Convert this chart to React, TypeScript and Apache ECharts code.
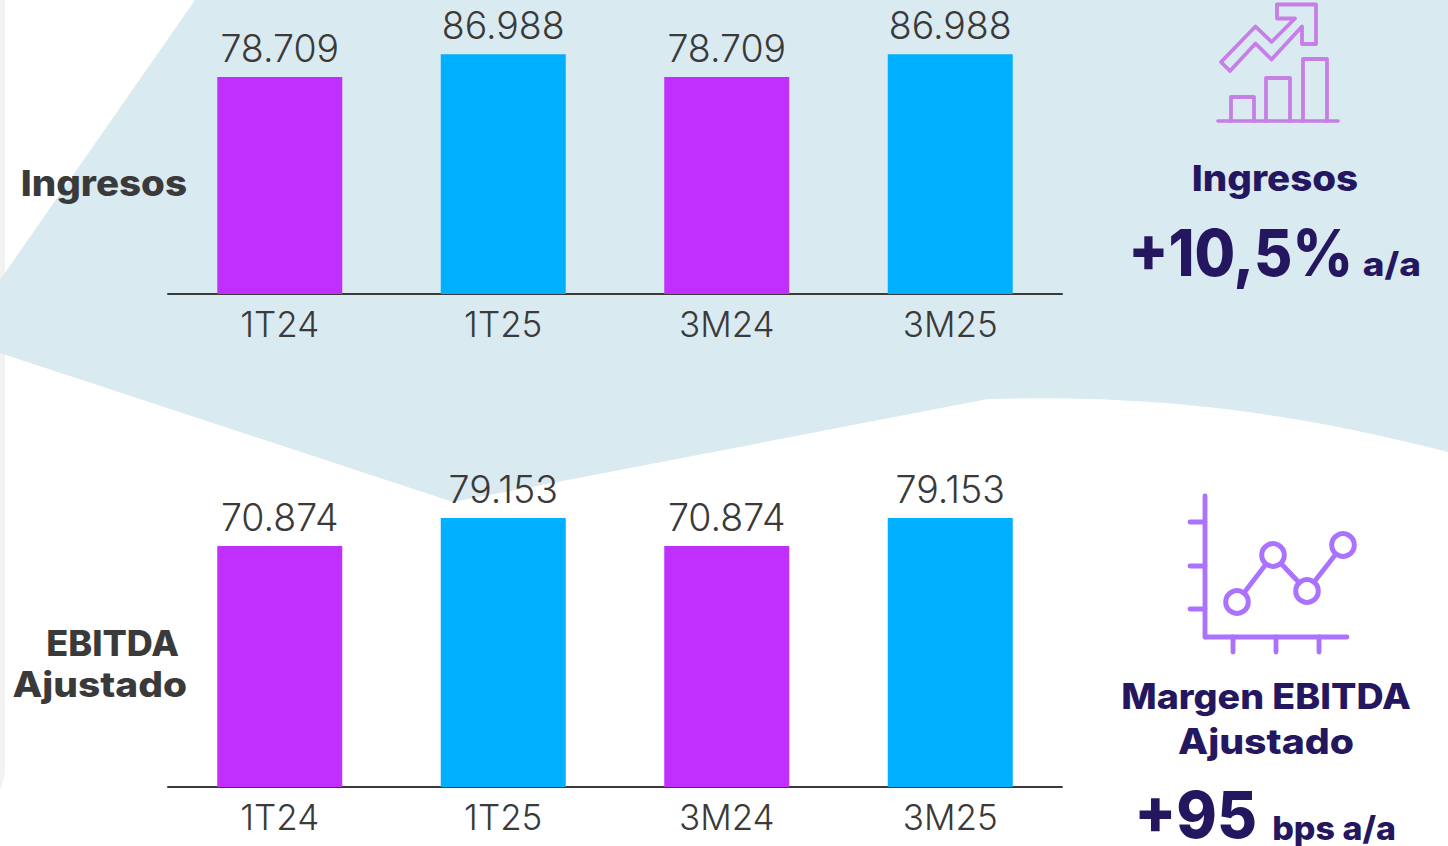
import React, { useEffect, useRef } from "react";
import * as echarts from "echarts";

const periods = ["1T24", "1T25", "3M24", "3M25"];
const ingresos = [78709, 86988, 78709, 86988];
const ebitda = [70874, 79153, 70874, 79153];
const barColors = ["#C12FFF", "#00B0FF", "#C12FFF", "#00B0FF"];

const FONT = "Inter";
const GREY = "#3A3A3A";
const NAVY = "#241760";
const PALE = "#DAEAF1";
const ICON_PINK = "#C77FE8";
const ICON_VIOLET = "#AA72FF";

echarts.graphic.registerShape(
  "backdrop",
  echarts.graphic.extendPath(
    "M195 0 L0 280 L0 353 L453 502 L988 399 C1100 396 1250 400 1448 452 L1448 0 Z",
    {}
  )
);
echarts.graphic.registerShape(
  "edgeStrip",
  echarts.graphic.extendPath("M0 0 L5 0 L5 765 Q5 780 0 790 Z", {})
);

const fmt = (v: number) => {
  const s = String(v);
  return s.slice(0, -3) + "." + s.slice(-3);
};

const heading = (
  text: string,
  x: number,
  y: number,
  size: number,
  fill: string,
  align: string,
  scaleX = 1,
  weight: number | string = 800
) => ({
  type: "text",
  x,
  y,
  scaleX,
  z: 10,
  style: {
    text,
    x: 0,
    y: 0,
    fontFamily: FONT,
    fontSize: size,
    fontWeight: weight,
    lineHeight: Math.round(size * 0.75),
    fill,
    textAlign: align,
    textVerticalAlign: "middle",
  },
});

const stroke = (color: string, lineWidth: number) => ({
  stroke: color,
  lineWidth,
  fill: "none",
  lineCap: "round",
  lineJoin: "round",
});

const seg = (x1: number, y1: number, x2: number, y2: number, color: string, w: number) => ({
  type: "line",
  z: 5,
  shape: { x1, y1, x2, y2 },
  style: stroke(color, w),
});

const growthIcon = [
  seg(1218, 121, 1338, 121, ICON_PINK, 3.6),
  ...[
    [1231, 97, 1254],
    [1266, 78, 1290],
    [1303, 59, 1327],
  ].map(([x1, top, x2]) => ({
    type: "polyline",
    z: 5,
    shape: { points: [[x1, 121], [x1, top], [x2, top], [x2, 121]] },
    style: stroke(ICON_PINK, 3.8),
  })),
  {
    type: "polygon",
    z: 5,
    shape: {
      points: [
        [1221, 62], [1255.5, 26.5], [1271.5, 42], [1295, 18.5], [1277, 18.5], [1277, 4.5],
        [1316, 4.5], [1316, 44], [1302, 44], [1302, 26.5], [1271.5, 59.5], [1255.5, 43.5], [1230, 71],
      ],
    },
    style: stroke(ICON_PINK, 3.8),
  },
];

const lineIcon = [
  seg(1205, 496, 1205, 637, ICON_VIOLET, 4.8),
  seg(1205, 637, 1347, 637, ICON_VIOLET, 4.8),
  ...[522, 566, 609].map((y) => seg(1190, y, 1205, y, ICON_VIOLET, 4.8)),
  ...[1233, 1276, 1319].map((x) => seg(x, 637, x, 652, ICON_VIOLET, 4.8)),
  {
    type: "polyline",
    z: 5,
    shape: { points: [[1237, 602], [1273, 555], [1307, 591], [1343, 545]] },
    style: stroke(ICON_VIOLET, 4.8),
  },
  ...[
    [1237, 602],
    [1273, 555],
    [1307, 591],
    [1343, 545],
  ].map(([cx, cy]) => ({
    type: "circle",
    z: 6,
    shape: { cx, cy, r: 11.3 },
    style: { stroke: ICON_VIOLET, lineWidth: 5, fill: "#FFFFFF" },
  })),
];

const barSeries = (values: number[], index: number) => ({
  type: "bar",
  xAxisIndex: index,
  yAxisIndex: index,
  barWidth: 125,
  data: values.map((value, i) => ({ value, itemStyle: { color: barColors[i] } })),
  label: {
    show: true,
    position: "top",
    distance: 9.5,
    fontFamily: FONT,
    fontSize: 37.5,
    fontWeight: 300,
    color: GREY,
    formatter: (p: { value: number }) => fmt(p.value),
  },
});

const categoryAxis = (gridIndex: number) => ({
  type: "category",
  gridIndex,
  data: periods,
  axisTick: { show: false },
  axisLine: { lineStyle: { color: GREY, width: 2 } },
  axisLabel: {
    margin: 12,
    fontFamily: FONT,
    fontSize: 35,
    fontWeight: 300,
    color: GREY,
  },
});

const valueAxis = (gridIndex: number, max: number) => ({
  type: "value",
  gridIndex,
  min: 0,
  max,
  show: false,
  splitLine: { show: false },
});

export default function App() {
  const ref = useRef<HTMLDivElement>(null);

  useEffect(() => {
    const chart = echarts.init(ref.current!, undefined, { renderer: "svg" });
    chart.setOption({
      animation: false,
      backgroundColor: "#FFFFFF",
      grid: [
        { left: 168, width: 894, top: 0, height: 294 },
        { left: 168, width: 894, top: 493, height: 294 },
      ],
      xAxis: [categoryAxis(0), categoryAxis(1)],
      yAxis: [valueAxis(0, 106640), valueAxis(1, 86480)],
      series: [barSeries(ingresos, 0), barSeries(ebitda, 1)],
      graphic: {
        elements: [
          { type: "edgeStrip", x: 0, y: 0, z: -2, style: { fill: "#F2F2F2" } },
          { type: "backdrop", x: 0, y: 0, z: -1, style: { fill: PALE } },
          ...growthIcon,
          ...lineIcon,
          heading("Ingresos", 187, 183, 36, GREY, "right", 1.07),
          heading("EBITDA", 179, 644, 35, GREY, "right", 1.03),
          heading("Ajustado", 187, 684, 35, GREY, "right", 1.11),
          heading("Ingresos", 1275, 178, 36, NAVY, "center", 1.07),
          heading("+10,5%", 1353, 253, 64, NAVY, "right", 0.92),
          heading("a/a", 1421, 264, 33, NAVY, "right", 1.12),
          heading("Margen EBITDA", 1266, 696, 35, NAVY, "center", 1.075),
          heading("Ajustado", 1266, 741, 35, NAVY, "center", 1.12),
          heading("+95", 1257, 815, 64, NAVY, "right", 0.96),
          heading("bps a/a", 1396, 828, 33, NAVY, "right", 1.03),
        ],
      },
    });
    return () => chart.dispose();
  }, []);

  return (
    <div
      ref={ref}
      style={{ position: "fixed", left: 0, top: 0, width: 1448, height: 846 }}
    />
  );
}
